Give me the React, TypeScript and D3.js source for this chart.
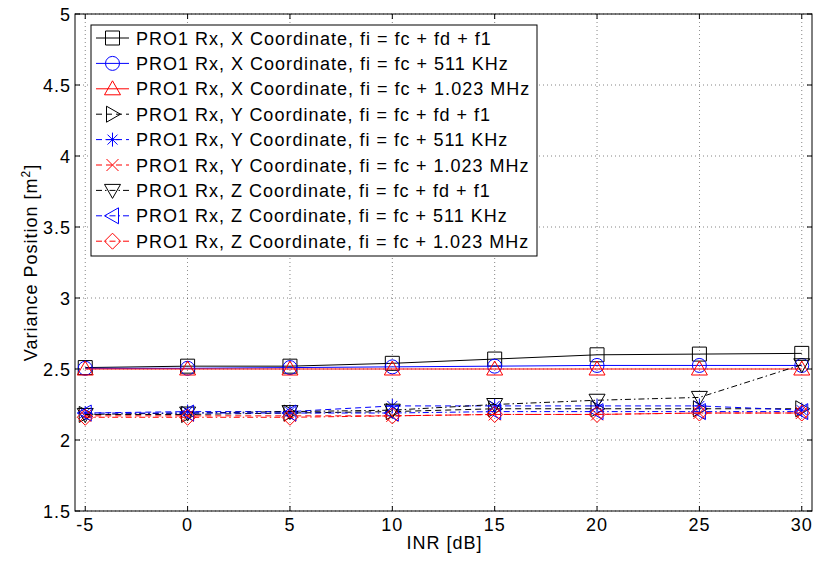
import React from "react";
import * as d3 from "d3";

const inr = [-5, 0, 5, 10, 15, 20, 25, 30];
const xTicks = [-5, 0, 5, 10, 15, 20, 25, 30];
const yTicks = [1.5, 2, 2.5, 3, 3.5, 4, 4.5, 5];

const xFdF1 = [2.51, 2.52, 2.52, 2.54, 2.57, 2.6, 2.605, 2.61];
const x511 = [2.505, 2.505, 2.51, 2.515, 2.52, 2.525, 2.525, 2.525];
const x1023 = [2.5, 2.5, 2.5, 2.5, 2.5, 2.5, 2.5, 2.5];
const yFdF1 = [2.18, 2.18, 2.19, 2.2, 2.22, 2.22, 2.22, 2.22];
const y511 = [2.19, 2.2, 2.2, 2.24, 2.24, 2.24, 2.24, 2.21];
const y1023 = [2.17, 2.17, 2.17, 2.17, 2.18, 2.18, 2.19, 2.19];
const zFdF1 = [2.18, 2.19, 2.2, 2.21, 2.25, 2.28, 2.3, 2.53];
const z511 = [2.19, 2.19, 2.19, 2.19, 2.2, 2.2, 2.2, 2.2];
const z1023 = [2.16, 2.16, 2.16, 2.17, 2.18, 2.18, 2.19, 2.19];

const labels = [
  "PRO1 Rx, X Coordinate, fi = fc + fd + f1",
  "PRO1 Rx, X Coordinate, fi = fc + 511 KHz",
  "PRO1 Rx, X Coordinate, fi = fc + 1.023 MHz",
  "PRO1 Rx, Y Coordinate, fi = fc + fd + f1",
  "PRO1 Rx, Y Coordinate, fi = fc + 511 KHz",
  "PRO1 Rx, Y Coordinate, fi = fc + 1.023 MHz",
  "PRO1 Rx, Z Coordinate, fi = fc + fd + f1",
  "PRO1 Rx, Z Coordinate, fi = fc + 511 KHz",
  "PRO1 Rx, Z Coordinate, fi = fc + 1.023 MHz",
];

const seriesValues = [xFdF1, x511, x1023, yFdF1, y511, y1023, zFdF1, z511, z1023];
const colors = ["#000", "#0000ff", "#ff0000", "#000", "#0000ff", "#ff0000", "#000", "#0000ff", "#ff0000"];
const markers = ["square", "circle", "up", "right", "star", "x", "down", "left", "diamond"];
const dashes = ["none", "none", "none", "6,4", "6,4", "6,4", "6,3,1.5,3", "6,3,1.5,3", "6,3,1.5,3"];

const W = 814;
const H = 561;
const L = 75, R = 812, T = 14, B = 511;
const FONT = "Liberation Sans, Arial, sans-serif";
const FS = 18;
const LS = 1;

function markerPath(type: string, s = 7): string {
  switch (type) {
    case "square":
      return `M${-s},${-s}H${s}V${s}H${-s}Z`;
    case "circle":
      return `M${s},0A${s},${s} 0 1,1 ${-s},0A${s},${s} 0 1,1 ${s},0Z`;
    case "up":
      return `M0,${-s - 1}L${s + 1},${s - 1}L${-s - 1},${s - 1}Z`;
    case "down":
      return `M0,${s + 1}L${s + 1},${-s + 1}L${-s - 1},${-s + 1}Z`;
    case "right":
      return `M${s + 1},0L${-s + 1},${-s - 1}L${-s + 1},${s + 1}Z`;
    case "left":
      return `M${-s - 1},0L${s - 1},${-s - 1}L${s - 1},${s + 1}Z`;
    case "diamond":
      return `M0,${-s - 1}L${s + 1},0L0,${s + 1}L${-s - 1},0Z`;
    case "x":
      return `M${-s + 1},${-s + 1}L${s - 1},${s - 1}M${-s + 1},${s - 1}L${s - 1},${-s + 1}`;
    case "star":
      return `M${-s},0H${s}M0,${-s}V${s}M${-s + 2},${-s + 2}L${s - 2},${s - 2}M${-s + 2},${s - 2}L${s - 2},${-s + 2}`;
  }
  return "";
}

export default function App() {
  const x = d3.scaleLinear().domain([-5.5, 30.5]).range([L, R]);
  const y = d3.scaleLinear().domain([1.5, 5]).range([B, T]);
  const line = d3
    .line<number>()
    .x((_, i) => x(inr[i]))
    .y((d) => y(d));

  const legX = 91, legY = 25, legW = 446, legH = 231;
  const rowH = 25.4;

  return (
    <svg
      width={W}
      height={H}
      style={{ position: "absolute", left: 0, top: 0, background: "#fff" }}
      fontFamily={FONT}
      letterSpacing={LS}
    >
      <rect x={0} y={0} width={W} height={H} fill="#fff" />
      <rect x={L} y={T} width={R - L} height={B - T} fill="#fff" />
      {/* grid */}
      {xTicks.map((t) => (
        <line key={"gx" + t} x1={x(t)} x2={x(t)} y1={T} y2={B} stroke="#000" strokeWidth={0.8} strokeDasharray="1,3" opacity={0.6} />
      ))}
      {yTicks.map((t) => (
        <line key={"gy" + t} x1={L} x2={R} y1={y(t)} y2={y(t)} stroke="#000" strokeWidth={0.8} strokeDasharray="1,3" opacity={0.6} />
      ))}
      {/* series */}
      {seriesValues.map((vals, si) => (
        <g key={"s" + si}>
          <path d={line(vals) || ""} fill="none" stroke={colors[si]} strokeWidth={1} strokeDasharray={dashes[si]} />
          {vals.map((v, i) => (
            <path
              key={i}
              d={markerPath(markers[si])}
              transform={`translate(${x(inr[i])},${y(v)})`}
              fill="none"
              stroke={colors[si]}
              strokeWidth={1}
            />
          ))}
        </g>
      ))}
      {/* axes box */}
      <rect x={L} y={T} width={R - L} height={B - T} fill="none" stroke="#000" strokeWidth={1} />
      {xTicks.map((t) => (
        <g key={"tx" + t}>
          <line x1={x(t)} x2={x(t)} y1={B} y2={B - 5} stroke="#000" />
          <line x1={x(t)} x2={x(t)} y1={T} y2={T + 5} stroke="#000" />
          <text x={x(t)} y={B + 20} textAnchor="middle" fontSize={FS} fill="#000">
            {t}
          </text>
        </g>
      ))}
      {yTicks.map((t) => (
        <g key={"ty" + t}>
          <line x1={L} x2={L + 5} y1={y(t)} y2={y(t)} stroke="#000" />
          <line x1={R} x2={R - 5} y1={y(t)} y2={y(t)} stroke="#000" />
          <text x={L - 4} y={y(t) + 6.5} textAnchor="end" fontSize={FS} fill="#000">
            {t}
          </text>
        </g>
      ))}
      <text x={(L + R) / 2 + 1} y={549} textAnchor="middle" fontSize={FS} fill="#000">
        INR [dB]
      </text>
      <text transform={`translate(37,${(T + B) / 2}) rotate(-90)`} textAnchor="middle" fontSize={FS} fill="#000">
        Variance Position [m<tspan dy={-7} fontSize={12}>2</tspan><tspan dy={7}>]</tspan>
      </text>
      {/* legend */}
      <rect x={legX} y={legY} width={legW} height={legH} fill="#fff" stroke="#000" strokeWidth={1} />
      {labels.map((lab, i) => {
        const cy = legY + 13 + i * rowH;
        return (
          <g key={"l" + i}>
            <line x1={96} x2={129} y1={cy} y2={cy} stroke={colors[i]} strokeWidth={1} strokeDasharray={dashes[i]} />
            <path d={markerPath(markers[i])} transform={`translate(112.5,${cy})`} fill="none" stroke={colors[i]} />
            <text x={136} y={cy + 6.5} fontSize={FS} fill="#000">
              {lab}
            </text>
          </g>
        );
      })}
    </svg>
  );
}
